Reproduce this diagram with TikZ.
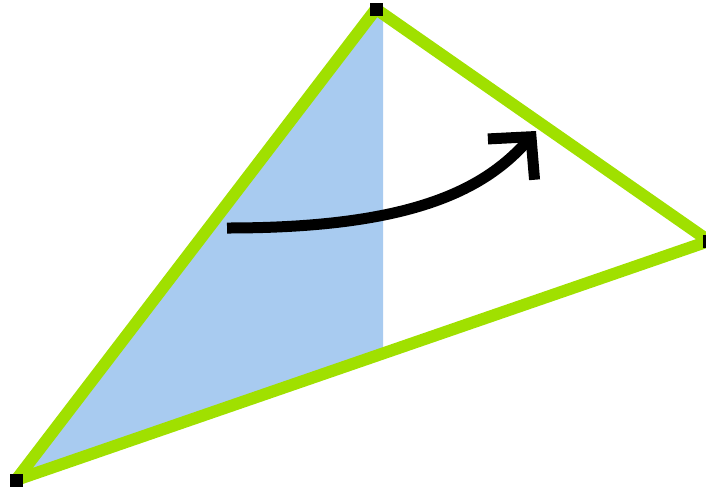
\documentclass[tikz,border=0pt]{standalone}
\usetikzlibrary{arrows.meta}
\definecolor{edgegreen}{RGB}{160,224,0}
\definecolor{sweepblue}{RGB}{168,203,240}
\begin{document}
\begin{tikzpicture}[x=1pt, y=-1pt,
    edge/.style={draw=edgegreen, line width=12pt, line join=round},
    vertexbox/.style={fill=black, inner sep=0pt, minimum size=13pt},
    sweep/.style={line width=11pt, -{Straight Barb[length=30pt, width=62pt]}}]
  \useasboundingbox (0,0) rectangle (706,488);
  % Triangle corners
  \coordinate (top) at (376,9);
  \coordinate (rt) at (709,241);
  \coordinate (bl) at (16,480);

  % Left part: shaded up to the vertical cut
  \begin{scope}
    \clip (0,0) rectangle (383,488);
    \fill[sweepblue] (bl) -- (top) -- (rt) -- cycle;
  \end{scope}

  % Edges
  \draw[edge] (bl) -- (top) -- (rt) -- cycle;

  % Corner markers
  \node[vertexbox] (topsq) at (top) {};
  \node[vertexbox] (rtsq) at (rt) {};
  \node[vertexbox] (blsq) at (bl) {};

  % Curved arrow
  \coordinate (arrstart) at (227,228);
  \coordinate (arrend) at (536,131);
  \draw[sweep] (arrstart) .. controls (400,228) and (480,195) .. (arrend);
\end{tikzpicture}
\end{document}
